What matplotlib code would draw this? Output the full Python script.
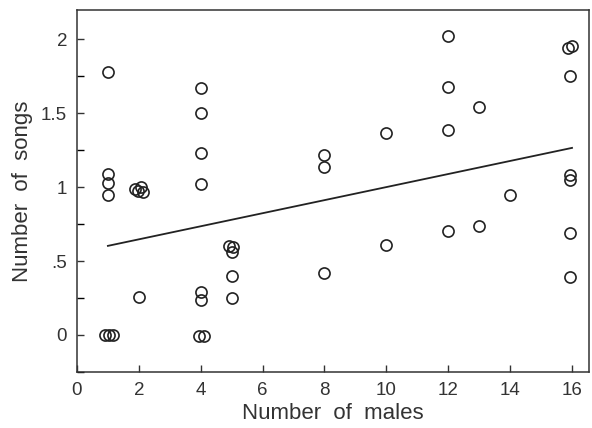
import matplotlib
matplotlib.use("Agg")
import matplotlib.pyplot as plt
import numpy as np

# data
males = [1, 1, 1, 1, 0.9, 1.05, 1.15,
         1.87, 2.06, 2.14, 1.98, 2,
         4, 4, 4, 4, 4, 4, 3.95, 4.1,
         4.9, 5.05, 5.0, 5, 5,
         8, 8, 8,
         10, 10,
         12, 12, 12, 12,
         13, 13,
         14,
         15.86, 16, 15.95, 15.95, 15.95, 15.95, 15.95]
songs = [1.78, 1.09, 1.03, 0.95, 0.0, 0.0, 0.0,
         0.99, 1.00, 0.97, 0.975, 0.26,
         1.67, 1.50, 1.23, 1.02, 0.29, 0.24, -0.01, -0.01,
         0.60, 0.595, 0.56, 0.40, 0.25,
         1.22, 1.14, 0.42,
         1.37, 0.61,
         2.02, 1.68, 1.385, 0.705,
         1.54, 0.74,
         0.946,
         1.94, 1.955, 1.75, 1.08, 1.05, 0.69, 0.39]

# regression line
fit_x = [1, 16]
fit_y = [0.603, 1.266]

xticks = [0, 2, 4, 6, 8, 10, 12, 14, 16]
yticks = [0, 0.5, 1, 1.5, 2]
ytick_labels = ["0", ".5", "1", "1.5", "2"]

plt.rcParams["font.family"] = ["Liberation Sans", "DejaVu Sans"]

fig = plt.figure(figsize=(5.92, 4.28), dpi=100)
ax = fig.add_axes([0.130, 0.131, 0.865, 0.846])

ax.plot(males, songs, linestyle="none", marker="o", markersize=8,
        markerfacecolor="none", markeredgecolor="#222222", markeredgewidth=1.2)
ax.plot(fit_x, fit_y, color="#222222", linewidth=1.3)

ax.set_xlim(0, 16.55)
ax.set_ylim(-0.25, 2.2)
ax.set_xticks(xticks)
ax.set_xticklabels([str(t) for t in xticks])
ax.set_yticks(yticks)
ax.set_yticklabels(ytick_labels)
ax.set_yticks(np.arange(-0.25, 2.2, 0.25), minor=True)

ax.tick_params(direction="in", length=5, width=1, labelsize=13.5, colors="#333333", pad=7)
ax.tick_params(which="minor", direction="in", length=5, width=1)
for s in ax.spines.values():
    s.set_linewidth(1.1)
    s.set_color("#333333")

ax.set_xlabel("Number  of  males", fontsize=16, color="#333333", labelpad=3)
ax.set_ylabel("Number  of  songs", fontsize=16, color="#333333", labelpad=6)

fig.savefig("out.png", dpi=100)
